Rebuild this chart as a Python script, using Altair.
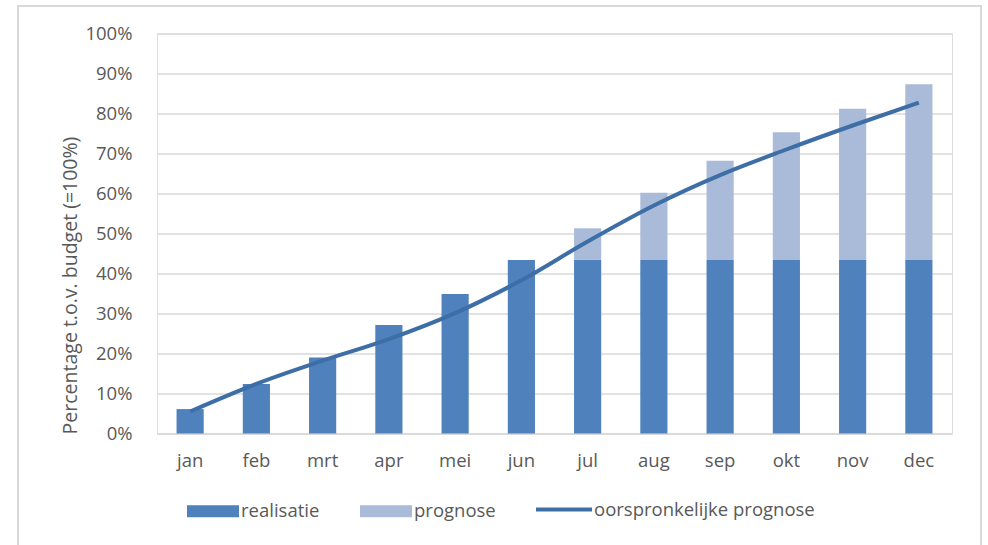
import altair as alt
import pandas as pd

months = ["jan", "feb", "mrt", "apr", "mei", "jun", "jul", "aug", "sep", "okt", "nov", "dec"]
realisatie = [6.1, 12.4, 19.0, 27.1, 34.9, 43.4, 43.4, 43.4, 43.4, 43.4, 43.4, 43.4]
prognose = [None, None, None, None, None, None, 51.3, 60.2, 68.2, 75.3, 81.2, 87.3]
oorspronkelijk = [5.5, 12.4, 18.2, 23.6, 30.1, 38.3, 48.0, 57.0, 64.6, 71.0, 77.0, 82.7]
y_ticks = [0, 10, 20, 30, 40, 50, 60, 70, 80, 90, 100]

bar_rows = []
for m, r, p in zip(months, realisatie, prognose):
    bar_rows.append({"maand": m, "serie": "realisatie", "y0": 0, "y1": r})
    if p is not None:
        bar_rows.append({"maand": m, "serie": "prognose", "y0": r, "y1": p})
bars_df = pd.DataFrame(bar_rows)
line_df = pd.DataFrame({"maand": months, "waarde": oorspronkelijk,
                        "serie": ["oorspronkelijke prognose"] * len(months)})

TXT = "#595959"
GRID = "#d9d9d9"
FS = 18.5

x_axis = alt.Axis(title=None, labelAngle=0, ticks=False, domain=True,
                  domainColor=GRID, domainWidth=1.3, labelPadding=18,
                  labelColor=TXT, labelFontSize=FS, labelFont="Open Sans")
x_scale = alt.Scale(paddingInner=0.59, paddingOuter=0.295)

y_axis = alt.Axis(values=y_ticks, labelExpr="datum.value + '%'",
                  title="Percentage t.o.v. budget (=100%)",
                  grid=True, gridColor=GRID, gridWidth=1.3, labelOverlap=False,
                  ticks=False, domain=False, labelPadding=25,
                  labelColor=TXT, labelFontSize=FS, labelFont="Open Sans",
                  titleColor=TXT, titleFontSize=19.5, titleFont="Open Sans",
                  titleFontWeight="normal", titleAngle=270,
                  titleAlign="center", titleBaseline="middle",
                  titleX=-87, titleY=251.5)
y_scale = alt.Scale(domain=[0, 100], nice=False)

bars = alt.Chart(bars_df).mark_bar().encode(
    x=alt.X("maand:N", sort=months, scale=x_scale, axis=x_axis),
    y=alt.Y("y1:Q", scale=y_scale, axis=y_axis),
    y2="y0:Q",
    fill=alt.Fill("serie:N",
                  scale=alt.Scale(domain=["realisatie", "prognose"],
                                  range=["#4f81bd", "#a9bbd9"]),
                  legend=alt.Legend(title=None, orient="none", direction="horizontal",
                                    legendX=30, legendY=451.5,
                                    symbolType="M-1,-0.23L1,-0.23L1,0.23L-1,0.23Z",
                                    symbolSize=2704, symbolStrokeWidth=0,
                                    labelOffset=2, columnPadding=40, padding=0,
                                    labelColor=TXT, labelFontSize=FS,
                                    labelFont="Open Sans", labelLimit=400)),
)

line = alt.Chart(line_df).mark_line(strokeWidth=4, interpolate="monotone").encode(
    x=alt.X("maand:N", sort=months, scale=x_scale, axis=x_axis),
    y=alt.Y("waarde:Q", scale=y_scale, axis=y_axis),
    stroke=alt.Stroke("serie:N",
                      scale=alt.Scale(domain=["oorspronkelijke prognose"],
                                      range=["#3e6ea6"]),
                      legend=alt.Legend(title=None, orient="none", direction="horizontal",
                                        legendX=377, legendY=446,
                                        symbolType="stroke", symbolSize=3136,
                                        symbolStrokeWidth=4, labelOffset=0, padding=0,
                                        labelColor=TXT, labelFontSize=FS,
                                        labelFont="Open Sans", labelLimit=400)),
)

frame = alt.Chart(pd.DataFrame({"k": [0]})).mark_rect(
    fill=None, stroke=GRID, strokeWidth=2
).encode(x=alt.value(-139), x2=alt.value(824), y=alt.value(-27.5), y2=alt.value(530))

chart = alt.layer(bars, line, frame).resolve_scale(fill="independent", stroke="independent").properties(
    width=795, height=400,
    autosize=alt.AutoSizeParams(type="none"),
    padding={"left": 157, "top": 33.5, "right": 36, "bottom": 111.5},
    background="white",
).configure_view(stroke=None).configure(font="Open Sans")

chart.save("out.html", embed_options={"renderer": "svg", "actions": False})
